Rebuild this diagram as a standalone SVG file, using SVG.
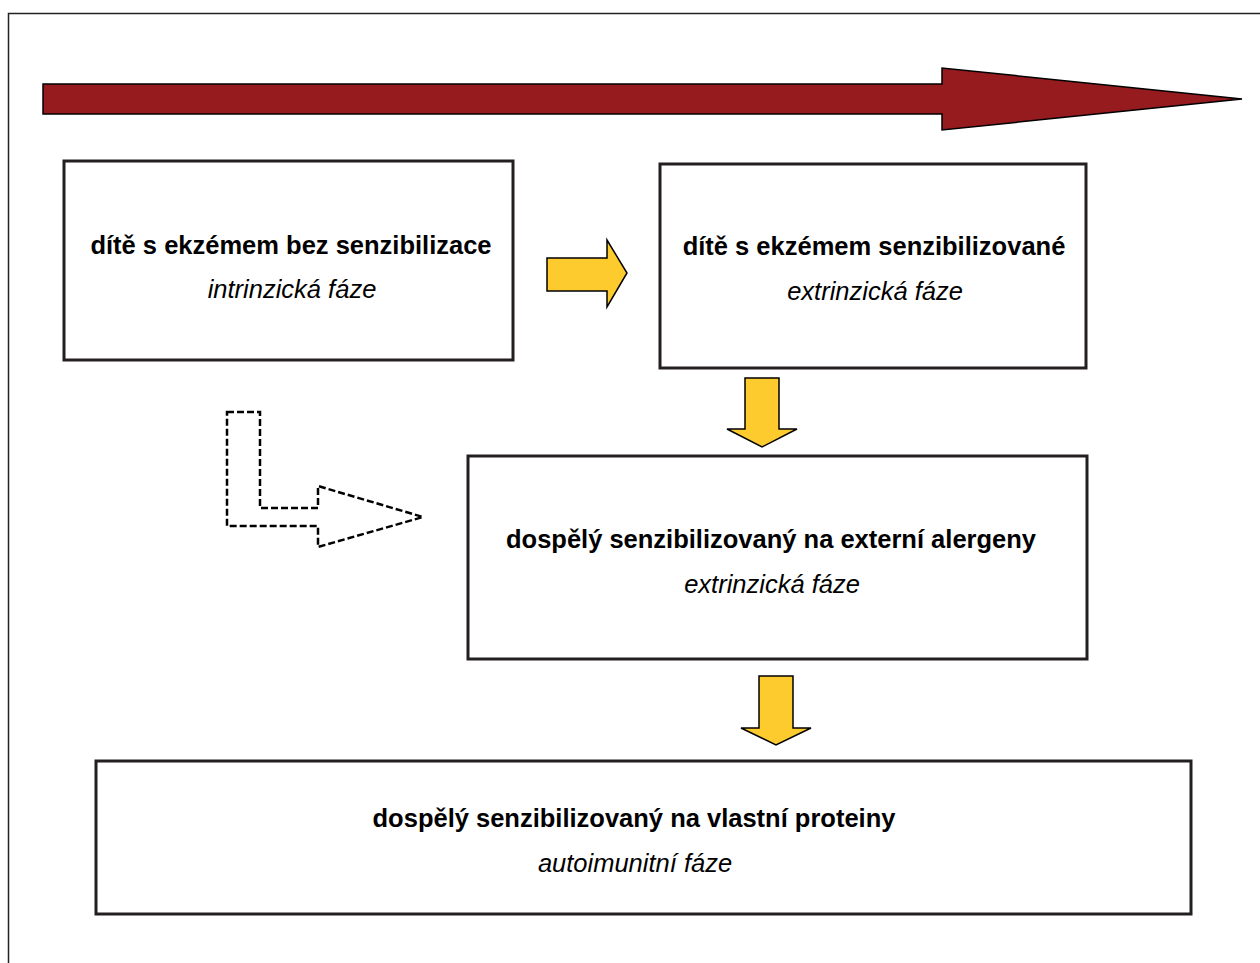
<svg xmlns="http://www.w3.org/2000/svg" width="1260" height="963" viewBox="0 0 1260 963">
<style>
.box{fill:#fff;stroke:#231f20;stroke-width:3}
.t{font-family:"Liberation Sans",Arial,sans-serif;font-size:25.5px;fill:#000;text-anchor:middle}
.b{font-weight:bold}
.i{font-style:italic}
.ya{fill:#fecb2f;stroke:#000;stroke-width:1.5;stroke-linejoin:miter}
</style>
<rect width="1260" height="963" fill="#fff"/>
<path d="M8.5 963 V13.5 H1260" fill="none" stroke="#222" stroke-width="1.5"/>
<g id="timeline">
<path d="M43 84 H942 V68 L1242 99 L942 130 V114 H43 Z" fill="#951b1f" stroke="#000" stroke-width="1.5"/>
</g>
<g id="n1">
<rect class="box" x="64" y="161" width="449" height="199"/>
<text class="t b" x="291" y="254">dítě s ekzémem bez senzibilizace</text>
<text class="t i" x="292" y="298">intrinzická fáze</text>
</g>
<g id="n2">
<rect class="box" x="660" y="164" width="426" height="204"/>
<text class="t b" x="874" y="255">dítě s ekzémem senzibilizované</text>
<text class="t i" x="875" y="300">extrinzická fáze</text>
</g>
<g id="n3">
<rect class="box" x="468" y="456" width="619" height="203"/>
<text class="t b" x="771" y="548">dospělý senzibilizovaný na externí alergeny</text>
<text class="t i" x="772" y="593">extrinzická fáze</text>
</g>
<g id="n4">
<rect class="box" x="96" y="761" width="1095" height="153"/>
<text class="t b" x="634" y="827">dospělý senzibilizovaný na vlastní proteiny</text>
<text class="t i" x="635" y="872">autoimunitní fáze</text>
</g>
<g id="connectors">
<path class="ya" d="M547 258 H607 V240 L627 273 L607 307 V291 H547 Z"/>
<path class="ya" d="M745 378 H779 V429 H797 L762 447 L727 429 H745 Z"/>
<path class="ya" d="M759 676 H793 V728 H811 L776 745 L741 728 H759 Z"/>
<path d="M227 412 H260 V508 H318 V486 L423 517 L318 547 V526 H227 Z" fill="none" stroke="#000" stroke-width="2.5" stroke-dasharray="7 3"/>
</g>
</svg>
